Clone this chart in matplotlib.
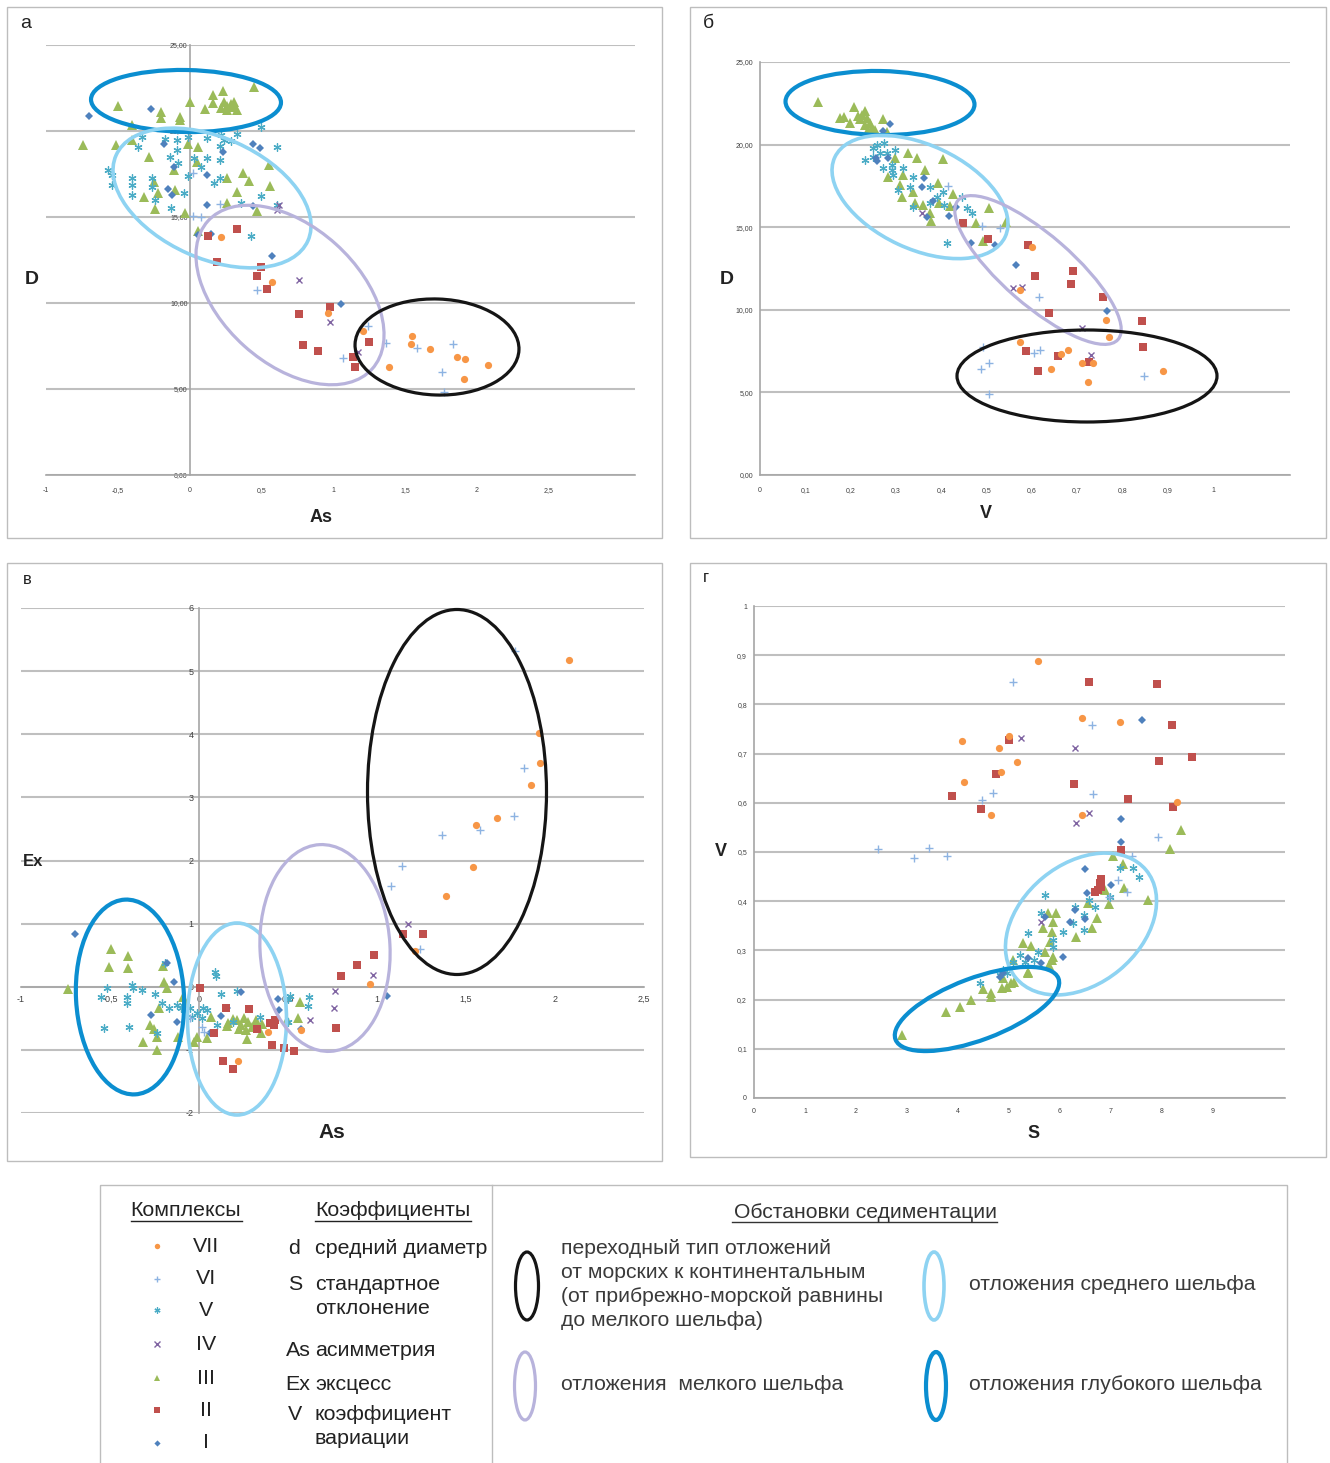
import matplotlib
matplotlib.use("Agg")
import matplotlib.pyplot as plt
from matplotlib.patches import Ellipse, Rectangle

plt.rcParams['font.family'] = ['Liberation Sans', 'DejaVu Sans']

# ---------------- DATA ----------------
complexes = ['VII', 'VI', 'V', 'IV', 'III', 'II', 'I']

# panel а : As (x) vs D (y)
a_I = [(-0.70,20.87),(-0.27,21.28),(-0.18,19.24),(-0.11,17.91),(0.12,17.44),(-0.15,16.63),(-0.12,16.28),(0.23,18.78),(0.44,19.24),(0.49,19.01),(0.12,15.70),(0.44,15.64),(0.06,13.95),(0.15,14.01),(0.57,12.73),(1.05,9.94)]
a_II = [(0.13,13.90),(0.33,14.30),(0.19,12.38),(0.50,12.09),(0.47,11.57),(0.54,10.81),(0.76,9.36),(0.98,9.77),(0.79,7.56),(0.89,7.21),(1.25,7.73),(1.14,6.86),(1.15,6.28)]
a_III = [(-0.50,21.45),(0.00,21.69),(0.16,22.09),(0.23,22.33),(0.45,22.56),(0.11,21.28),(0.16,21.63),(0.24,21.69),(0.26,21.45),(0.29,21.57),(0.31,21.40),(0.26,21.22),(0.31,21.69),(0.22,21.34),(0.33,21.22),(-0.20,21.10),(-0.20,20.76),(-0.07,20.81),(-0.07,20.64),(-0.40,20.35),(-0.74,19.19),(-0.51,19.19),(-0.40,19.48),(-0.28,18.49),(-0.01,19.24),(0.06,19.07),(0.05,18.20),(-0.11,17.73),(-0.25,17.03),(-0.10,16.57),(-0.22,16.40),(-0.32,16.16),(-0.24,15.47),(-0.03,15.23),(0.26,17.27),(0.37,17.56),(0.41,17.09),(0.55,18.02),(0.56,16.80),(0.33,16.45),(0.26,15.81),(0.47,15.35),(0.06,14.19)]
a_IV = [(0.62,15.70),(0.61,15.41),(0.76,11.34),(0.98,8.90),(1.17,7.15)]
a_V = [(0.50,20.23),(0.61,19.07),(0.22,19.77),(0.24,19.48),(0.33,19.83),(0.21,19.13),(0.29,19.42),(0.12,19.59),(-0.01,19.65),(-0.09,19.48),(-0.17,19.53),(-0.33,19.65),(-0.36,19.07),(-0.14,18.49),(-0.08,18.14),(-0.09,18.90),(0.03,18.43),(0.12,18.43),(0.08,17.91),(0.21,18.31),(0.17,16.98),(0.21,17.27),(-0.01,17.38),(-0.57,17.73),(-0.54,17.44),(-0.54,16.86),(-0.40,17.27),(-0.40,16.86),(-0.40,16.28),(-0.26,17.27),(-0.26,16.74),(-0.24,15.99),(-0.13,15.52),(-0.04,16.40),(0.50,16.22),(0.36,15.81),(0.61,15.70),(0.43,13.90)]
a_VI = [(0.02,17.56),(0.21,15.76),(0.02,15.06),(0.08,15.00),(0.47,10.76),(1.24,8.66),(1.37,7.67),(1.58,7.38),(1.83,7.62),(1.07,6.80),(1.76,5.99),(1.77,4.83)]
a_VII = [(0.22,13.84),(0.57,11.22),(0.96,9.42),(1.21,8.37),(1.55,8.08),(1.54,7.62),(1.67,7.33),(1.39,6.28),(1.86,6.86),(1.92,6.74),(2.08,6.40),(1.91,5.58)]

# panel б : V (x) vs D (y)
b_I = [(0.287,21.27),(0.272,20.85),(0.256,19.21),(0.258,19.03),(0.283,19.21),(0.362,18.00),(0.358,17.45),(0.382,16.61),(0.369,15.64),(0.417,15.70),(0.433,16.24),(0.466,14.06),(0.519,13.94),(0.565,12.73),(0.766,9.94)]
b_II = [(0.448,15.27),(0.503,14.30),(0.592,13.94),(0.607,12.06),(0.691,12.36),(0.687,11.58),(0.757,10.79),(0.638,9.82),(0.843,9.33),(0.587,7.52),(0.658,7.21),(0.726,6.85),(0.845,7.76),(0.614,6.30)]
b_III = [(0.128,22.55),(0.208,22.30),(0.232,22.06),(0.177,21.58),(0.185,21.70),(0.199,21.33),(0.216,21.76),(0.225,21.82),(0.236,21.64),(0.221,21.52),(0.232,21.21),(0.243,21.33),(0.247,21.03),(0.254,20.91),(0.238,20.91),(0.272,21.52),(0.280,20.79),(0.298,19.21),(0.327,19.52),(0.347,19.21),(0.404,19.15),(0.283,18.06),(0.316,18.18),(0.364,18.48),(0.309,17.58),(0.338,17.15),(0.313,16.85),(0.393,17.70),(0.426,17.03),(0.360,16.36),(0.342,16.48),(0.395,16.48),(0.419,16.30),(0.375,15.88),(0.377,15.39),(0.477,15.27),(0.506,16.18),(0.543,15.33),(0.492,14.18)]
b_IV = [(0.358,15.88),(0.558,11.33),(0.578,11.39),(0.711,8.91),(0.731,7.27)]
b_V = [(0.249,19.82),(0.265,19.52),(0.274,20.12),(0.298,19.70),(0.280,19.52),(0.291,18.79),(0.232,19.09),(0.316,18.61),(0.294,18.18),(0.338,18.06),(0.331,17.45),(0.305,17.27),(0.375,17.45),(0.404,17.15),(0.391,16.85),(0.375,16.48),(0.338,16.24),(0.446,16.85),(0.457,16.18),(0.468,15.88),(0.406,16.36),(0.413,14.06),(0.249,19.27),(0.272,18.61),(0.291,18.48),(0.258,20.00)]
b_VI = [(0.415,17.52),(0.490,15.09),(0.530,14.97),(0.616,10.79),(0.492,7.76),(0.506,6.79),(0.488,6.42),(0.506,4.91),(0.605,7.39),(0.618,7.58),(0.848,6.00)]
b_VII = [(0.600,13.82),(0.574,11.21),(0.764,9.39),(0.770,8.36),(0.574,8.06),(0.680,7.58),(0.664,7.33),(0.711,6.79),(0.735,6.79),(0.642,6.42),(0.724,5.64),(0.890,6.30)]

# panel в : As (x) vs Ex (y)
c_I = [(-0.697,0.84),(-0.180,0.37),(-0.140,0.08),(-0.270,-0.44),(-0.124,-0.56),(0.236,-0.08),(0.157,-0.33),(0.124,-0.46),(0.062,-0.73),(0.444,-0.19),(0.573,-0.67),(0.449,-0.37),(1.056,-0.14)]
c_II = [(0.006,-0.02),(0.084,-0.73),(0.152,-0.33),(0.281,-0.35),(0.326,-0.67),(0.399,-0.57),(0.421,-0.60),(0.427,-0.52),(0.410,-0.92),(0.478,-0.97),(0.534,-1.02),(0.135,-1.17),(0.191,-1.30),(0.770,-0.65),(0.798,0.17),(0.888,0.35),(0.983,0.51),(1.146,0.83),(1.258,0.83)]
c_III = [(-0.736,-0.03),(-0.494,0.60),(-0.506,0.32),(-0.399,0.48),(-0.399,0.29),(-0.202,0.33),(-0.197,0.08),(-0.180,-0.02),(-0.225,-0.33),(-0.275,-0.60),(-0.253,-0.67),(-0.236,-0.79),(-0.315,-0.87),(-0.236,-1.00),(-0.090,-0.17),(-0.079,-0.25),(-0.118,-0.79),(-0.028,-0.87),(-0.011,-0.79),(0.045,-0.81),(0.067,-0.48),(0.157,-0.62),(0.163,-0.57),(0.213,-0.52),(0.236,-0.60),(0.253,-0.49),(0.275,-0.56),(0.298,-0.63),(0.320,-0.52),(0.354,-0.59),(0.225,-0.67),(0.264,-0.68),(0.191,-0.51),(0.270,-0.83),(0.348,-0.73),(0.556,-0.49),(0.567,-0.24),(0.494,-0.52)]
c_IV = [(0.624,-0.52),(0.764,-0.06),(0.758,-0.33),(0.978,0.19),(1.174,1.00)]
c_V = [(-0.517,-0.02),(-0.551,-0.16),(-0.404,-0.17),(-0.404,-0.25),(-0.376,0.02),(-0.371,-0.02),(-0.320,-0.05),(-0.247,-0.11),(-0.208,-0.25),(-0.169,-0.33),(-0.124,-0.29),(-0.101,-0.33),(-0.534,-0.65),(-0.393,-0.63),(-0.236,-0.73),(-0.191,0.38),(-0.051,-0.33),(-0.039,-0.48),(-0.011,-0.41),(0.090,0.24),(0.096,0.17),(0.124,-0.11),(0.213,-0.06),(0.045,-0.37),(0.017,-0.49),(0.101,-0.60),(0.191,-0.56),(0.343,-0.48),(0.511,-0.14),(0.500,-0.19),(0.618,-0.17),(0.612,-0.30),(0.500,-0.56),(0.022,-0.33)]
c_VI = [(-0.051,-0.49),(0.017,-0.63),(0.028,-0.71),(1.775,5.32),(1.826,3.46),(1.770,2.70),(1.579,2.48),(1.365,2.40),(1.140,1.92),(1.079,1.59),(1.242,0.60)]
c_VII = [(0.219,-1.17),(0.388,-0.71),(0.573,-0.68),(0.961,0.05),(1.213,0.56),(1.388,1.43),(1.539,1.90),(1.556,2.56),(1.674,2.68),(1.865,3.19),(1.916,3.54),(1.910,4.02),(2.079,5.17)]

# panel г : S (x) vs V (y)
d_I = [(7.60,0.768),(7.20,0.567),(7.20,0.520),(6.49,0.465),(6.52,0.417),(6.99,0.433),(6.29,0.382),(6.48,0.364),(6.19,0.358),(5.71,0.368),(6.06,0.287),(5.38,0.285),(5.63,0.274),(4.89,0.254),(4.82,0.246)]
d_II = [(6.56,0.846),(7.90,0.841),(8.20,0.758),(4.99,0.728),(8.58,0.693),(7.94,0.685),(4.75,0.659),(6.27,0.638),(3.88,0.614),(4.45,0.587),(7.33,0.608),(8.21,0.591),(7.20,0.504),(6.80,0.445),(6.78,0.437),(6.68,0.419),(6.75,0.423),(6.81,0.429)]
d_III = [(8.37,0.545),(8.16,0.506),(7.03,0.492),(7.24,0.476),(7.25,0.427),(6.88,0.423),(7.73,0.402),(6.96,0.394),(6.54,0.396),(6.73,0.366),(6.62,0.346),(6.31,0.327),(5.93,0.376),(5.77,0.376),(5.87,0.358),(5.66,0.346),(5.84,0.337),(5.28,0.315),(5.44,0.309),(5.70,0.297),(5.80,0.317),(5.87,0.287),(5.84,0.280),(5.79,0.270),(5.08,0.280),(5.38,0.256),(5.38,0.254),(4.86,0.224),(4.96,0.226),(5.03,0.234),(5.10,0.236),(4.89,0.244),(4.65,0.213),(4.65,0.205),(4.49,0.222),(4.25,0.199),(4.03,0.185),(3.77,0.175),(2.91,0.128)]
d_IV = [(5.24,0.732),(6.29,0.711),(6.57,0.579),(6.31,0.559),(5.62,0.358)]
d_V = [(5.70,0.413),(5.63,0.376),(6.29,0.388),(6.57,0.402),(6.68,0.388),(7.17,0.467),(7.43,0.467),(7.55,0.449),(6.98,0.409),(6.47,0.372),(6.26,0.356),(6.05,0.337),(6.47,0.341),(5.87,0.321),(5.87,0.307),(5.38,0.335),(5.56,0.297),(5.21,0.291),(5.31,0.276),(5.49,0.280),(5.07,0.276),(4.89,0.260),(4.96,0.254),(4.44,0.234),(4.82,0.250)]
d_VI = [(5.07,0.846),(6.62,0.758),(4.69,0.620),(4.47,0.606),(6.64,0.618),(2.44,0.506),(3.13,0.488),(3.44,0.508),(3.79,0.492),(7.92,0.530),(7.41,0.492),(7.14,0.443),(7.31,0.419),(6.96,0.409)]
d_VII = [(5.57,0.888),(6.43,0.772),(7.17,0.764),(4.07,0.726),(5.00,0.736),(4.80,0.711),(5.15,0.683),(4.85,0.663),(4.11,0.642),(4.64,0.575),(6.43,0.575),(8.30,0.602)]

# tick labels
a_xticks = [-1, -0.5, 0, 0.5, 1, 1.5, 2, 2.5]
a_xlabels = ['-1', '-0,5', '0', '0,5', '1', '1,5', '2', '2,5']
a_yticks = [0, 5, 10, 15, 20, 25]
a_ylabels = ['0,00', '5,00', '10,00', '15,00', '20,00', '25,00']
b_xticks = [0, 0.1, 0.2, 0.3, 0.4, 0.5, 0.6, 0.7, 0.8, 0.9, 1]
b_xlabels = ['0', '0,1', '0,2', '0,3', '0,4', '0,5', '0,6', '0,7', '0,8', '0,9', '1']
c_yticks = [-2, -1, 0, 1, 2, 3, 4, 5, 6]
c_ylabels = ['-2', '-1', '0', '1', '2', '3', '4', '5', '6']
d_xticks = [0, 1, 2, 3, 4, 5, 6, 7, 8, 9]
d_xlabels = ['0', '1', '2', '3', '4', '5', '6', '7', '8', '9']
d_yticks = [0, 0.1, 0.2, 0.3, 0.4, 0.5, 0.6, 0.7, 0.8, 0.9, 1]
d_ylabels = ['0', '0,1', '0,2', '0,3', '0,4', '0,5', '0,6', '0,7', '0,8', '0,9', '1']

# ---------------- STYLE ----------------
STYLE = {
    'VII': dict(marker='o', color='#F79646', ms=5.2, mew=0),
    'VI': dict(marker='+', color='#8DB3E2', ms=6.0, mew=1.0),
    'V': dict(marker=(6, 2, 0), color='#4BACC6', ms=5.8, mew=0.9),
    'IV': dict(marker='x', color='#8064A2', ms=5.0, mew=1.0),
    'III': dict(marker='^', color='#9BBB59', ms=6.5, mew=0),
    'II': dict(marker='s', color='#C0504D', ms=6.0, mew=0),
    'I': dict(marker='D', color='#4F81BD', ms=4.2, mew=0),
}
ORDER = ['III', 'V', 'I', 'II', 'IV', 'VI', 'VII']
DEEP = '#0B8ED0'
LIGHT = '#8ED3F2'
LAV = '#B8B3DC'
BLACK = '#151515'
GRID = '#BFBFBF'
TICKC = '#404040'

W, H = 1330, 1463
fig = plt.figure(figsize=(W / 100, H / 100), dpi=100)


def add_panel(x0, y0, x1, y1):
    return fig.add_axes([x0 / W, 1 - y1 / H, (x1 - x0) / W, (y1 - y0) / H])


def setup(ax, xlim, ylim, xt, xl, yt, yl, xspine, yspine, fs, xpad, ypad):
    ax.set_xlim(*xlim)
    ax.set_ylim(*ylim)
    ax.set_facecolor('none')
    for s in ['top', 'right']:
        ax.spines[s].set_visible(False)
    ax.spines['left'].set_position(('data', yspine))
    ax.spines['bottom'].set_position(('data', xspine))
    for s in ['left', 'bottom']:
        ax.spines[s].set_color('#A6A6A6')
        ax.spines[s].set_linewidth(1.2)
    ax.set_xticks(xt)
    ax.set_xticklabels(xl, fontsize=fs, color=TICKC)
    ax.set_yticks(yt)
    ax.set_yticklabels(yl, fontsize=fs, color=TICKC)
    ax.tick_params(axis='x', length=0, pad=xpad)
    ax.tick_params(axis='y', length=0, pad=ypad)
    ax.yaxis.grid(True, color=GRID, lw=1.5)
    ax.set_axisbelow(True)


def draw(ax, series):
    for key in ORDER:
        pts = series[key]
        st = STYLE[key]
        ax.plot([p[0] for p in pts], [p[1] for p in pts], linestyle='none',
                marker=st['marker'], ms=st['ms'], color=st['color'],
                mec=st['color'], mew=st['mew'], zorder=3, clip_on=False)


# panel а
axa = add_panel(46, 45, 635, 475)
setup(axa, (-1, 3.1), (0, 25), a_xticks, a_xlabels, a_yticks, a_ylabels, 0, 0, 5, 9, 1.5)
draw(axa, {'I': a_I, 'II': a_II, 'III': a_III, 'IV': a_IV, 'V': a_V, 'VI': a_VI, 'VII': a_VII})

# panel б
axb = add_panel(760, 62, 1290, 475)
setup(axb, (0, 1.17), (0, 25), b_xticks, b_xlabels, a_yticks, a_ylabels, 0, 0, 5, 9, 5)
draw(axb, {'I': b_I, 'II': b_II, 'III': b_III, 'IV': b_IV, 'V': b_V, 'VI': b_VI, 'VII': b_VII})

# panel в
axc = add_panel(21, 608, 644, 1113)
setup(axc, (-1, 2.5), (-2, 6), a_xticks, a_xlabels, c_yticks, c_ylabels, 0, 0, 6.5, 6, 4)
draw(axc, {'I': c_I, 'II': c_II, 'III': c_III, 'IV': c_IV, 'V': c_V, 'VI': c_VI, 'VII': c_VII})

# panel г
axd = add_panel(754, 606, 1285, 1098)
setup(axd, (0, 10.41), (0, 1), d_xticks, d_xlabels, d_yticks, d_ylabels, 0, 0, 5, 7, 5)
draw(axd, {'I': d_I, 'II': d_II, 'III': d_III, 'IV': d_IV, 'V': d_V, 'VI': d_VI, 'VII': d_VII})

# ---------------- OVERLAY (pixel coordinates) ----------------
ov = fig.add_axes([0, 0, 1, 1])
ov.set_xlim(0, W)
ov.set_ylim(H, 0)
ov.axis('off')
ov.set_zorder(10)

FRAME = '#BDBDBD'
for (x, y, w, h) in [(7, 7, 655, 531), (690, 7, 636, 531), (7, 563, 655, 598), (690, 563, 636, 594), (100, 1185, 1187, 300)]:
    ov.add_patch(Rectangle((x, y), w, h, fill=False, ec=FRAME, lw=1.0))
ov.plot([492, 492], [1185, 1463], color=FRAME, lw=1.0)

# ellipses (pixel centre, width, height, angle, colour, linewidth)
ellipses = [
    ((186, 101), 190, 62, 1, DEEP, 3.0),
    ((212, 198), 210, 121, 24, LIGHT, 2.6),
    ((290, 295), 221, 137, 42, LAV, 2.3),
    ((437, 347), 164, 96, 2, BLACK, 2.3),
    ((880, 103), 189, 64, 1, DEEP, 3.0),
    ((920, 197), 188, 104, 25, LIGHT, 2.6),
    ((1038, 270), 212, 70, 41, LAV, 2.3),
    ((1087, 376), 260, 92, 0, BLACK, 2.3),
    ((130, 997), 108, 195, -3, DEEP, 3.0),
    ((237, 1019), 99, 192, 0, LIGHT, 2.6),
    ((325, 948), 130, 207, -3, LAV, 2.3),
    ((457, 792), 179, 365, 0, BLACK, 2.3),
    ((1081, 924), 169, 120, -39.5, LIGHT, 2.6),
    ((977, 1009), 174, 62, -20.5, DEEP, 3.0),
    ((527, 1286), 23, 68, 0, BLACK, 2.3),
    ((934, 1286), 20, 68, 0, LIGHT, 2.6),
    ((525, 1386), 21, 68, 0, LAV, 2.3),
    ((936, 1386), 20, 68, 0, DEEP, 3.0),
]
for c, w, h, ang, col, lw in ellipses:
    ov.add_patch(Ellipse(c, w, h, angle=ang, fill=False, ec=col, lw=lw))

# panel letters and axis titles
for (x, y, s, fs, fw) in [(26, 23, 'а', 14, 'normal'), (708, 23, 'б', 14, 'normal'),
                          (27, 579, 'в', 12, 'normal'), (706, 578, 'г', 12, 'normal'),
                          (32, 280, 'D', 14, 'bold'), (321, 517, 'As', 13, 'bold'),
                          (727, 280, 'D', 14, 'bold'), (986, 513, 'V', 13, 'bold'),
                          (33, 862, 'Ex', 12, 'bold'), (332, 1132, 'As', 15, 'bold'),
                          (721, 852, 'V', 13, 'bold'), (1034, 1133, 'S', 13, 'bold')]:
    ov.text(x, y, s, fontsize=fs, fontweight=fw, ha='center', va='center', color='#222222')

# legend: complexes
LFS = 15.4
ov.text(186, 1211, 'Комплексы', fontsize=LFS, ha='center', va='center', color='#222222')
ov.plot([131, 242], [1221, 1221], color='#222222', lw=1.0)
leg_y = [1246, 1279, 1310, 1344, 1378, 1410, 1443]
for key, y in zip(complexes, leg_y):
    st = STYLE[key]
    ov.plot([157], [y], linestyle='none', marker=st['marker'], ms=st['ms'] * 0.75,
            color=st['color'], mec=st['color'], mew=st['mew'])
    ov.text(206, y, key, fontsize=LFS, ha='center', va='center', color='#222222')

# legend: coefficients
ov.text(393, 1211, 'Коэффициенты', fontsize=LFS, ha='center', va='center', color='#222222')
ov.plot([315, 471], [1221, 1221], color='#222222', lw=1.0)
coef = [(294, 1249, 'd', ['средний диаметр']),
        (295, 1284, 'S', ['стандартное', 'отклонение']),
        (298, 1351, 'As', ['асимметрия']),
        (298, 1384, 'Ex', ['эксцесс']),
        (295, 1415, 'V', ['коэффициент', 'вариации'])]
for x, y, sym, lines in coef:
    ov.text(x, y, sym, fontsize=LFS, ha='center', va='center', color='#222222')
    for i, ln in enumerate(lines):
        ov.text(315, y + i * 24, ln, fontsize=LFS, ha='left', va='center', color='#222222')

# legend: environments
RFS = 15.2
ov.text(865, 1212, 'Обстановки седиментации', fontsize=RFS, ha='center', va='center', color='#333333')
ov.plot([732, 997], [1222, 1222], color='#333333', lw=1.0)
env_lines = ['переходный тип отложений', 'от морских к континентальным',
             '(от прибрежно-морской равнины', 'до мелкого шельфа)']
for i, ln in enumerate(env_lines):
    ov.text(561, 1249 + i * 23.7, ln, fontsize=RFS, ha='left', va='center', color='#3a3a3a')
ov.text(969, 1285, 'отложения среднего шельфа', fontsize=RFS, ha='left', va='center', color='#3a3a3a')
ov.text(561, 1384, 'отложения  мелкого шельфа', fontsize=RFS, ha='left', va='center', color='#3a3a3a')
ov.text(969, 1384, 'отложения глубокого шельфа', fontsize=RFS, ha='left', va='center', color='#3a3a3a')

fig.savefig('out.png', dpi=100, facecolor='white')
